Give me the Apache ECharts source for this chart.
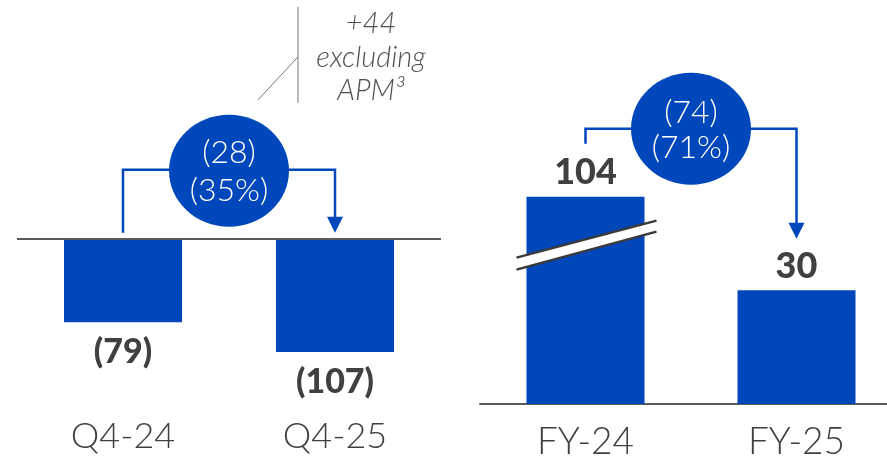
<!DOCTYPE html>
<html><head><meta charset="utf-8">
<script src="https://cdn.jsdelivr.net/npm/echarts@6/dist/echarts.min.js"></script>
<style>html,body{margin:0;padding:0;background:#fff}#c{width:887px;height:459px}</style>
</head><body><div id="c"></div>
<script>
const quarterCategories = ['Q4-24', 'Q4-25'];
const quarterValues = [-79, -107];
const quarterLabels = ['(79)', '(107)'];
const yearCategories = ['FY-24', 'FY-25'];
const yearValues = [104, 30];
const yearLabels = ['104', '30'];
const quarterChange = ['(28)', '(35%)'];
const yearChange = ['(74)', '(71%)'];
const noteLines = ['+44', 'excluding', 'APM³'];
const yearBreakStart = 42;
const yearBreakEnd = 91.4;

const BLUE = '#0047BB';
const TEXT = '#404040';
const GRAY = '#5a5a5a';
const FONT = 'Lato, "Noto Sans", sans-serif';

const chart = echarts.init(document.getElementById('c'), null, {renderer: 'canvas'});

const option = {
  animation: false,
  backgroundColor: '#fff',
  grid: [
    {left: 17, width: 424, top: 186, height: 222, outerBoundsMode: 'none', containLabel: false},
    {left: 480, width: 422, top: 174, height: 230, outerBoundsMode: 'none', containLabel: false}
  ],
  xAxis: [
    {type: 'category', gridIndex: 0, data: quarterCategories,
      axisLine: {show: false}, axisTick: {show: false}, splitLine: {show: false},
      axisLabel: {fontSize: 36, color: TEXT, margin: 10, fontFamily: FONT, fontWeight: 300}},
    {type: 'category', gridIndex: 1, data: yearCategories,
      axisLine: {show: true, lineStyle: {color: GRAY, width: 2}}, axisTick: {show: false}, splitLine: {show: false},
      axisLabel: {fontSize: 37, color: TEXT, margin: 20, fontFamily: FONT, fontWeight: 300}}
  ],
  yAxis: [
    {type: 'value', gridIndex: 0, min: -160, max: 50,
      axisLine: {show: false}, axisTick: {show: false}, axisLabel: {show: false}, splitLine: {show: false}},
    {type: 'value', gridIndex: 1, min: 0, max: 110,
      breaks: [{start: yearBreakStart, end: yearBreakEnd, gap: 0}],
      breakArea: {show: false},
      axisLine: {show: false}, axisTick: {show: false}, axisLabel: {show: false}, splitLine: {show: false}}
  ],
  series: [
    {type: 'bar', xAxisIndex: 0, yAxisIndex: 0, data: quarterValues, barWidth: 118,
      itemStyle: {color: BLUE},
      label: {show: true, position: 'bottom', distance: 13,
        formatter: p => quarterLabels[p.dataIndex],
        fontSize: 34, fontWeight: 900, color: TEXT, fontFamily: FONT},
      markLine: {silent: true, symbol: 'none', label: {show: false},
        lineStyle: {color: GRAY, width: 2, type: 'solid'},
        data: [{yAxis: 0}]}
    },
    {type: 'bar', xAxisIndex: 1, yAxisIndex: 1, data: yearValues, barWidth: 118,
      itemStyle: {color: BLUE},
      label: {show: true, position: 'top', distance: 6,
        formatter: p => yearLabels[p.dataIndex],
        fontSize: 36, fontWeight: 900, color: TEXT, fontFamily: FONT}
    }
  ]
};
chart.setOption(option);

function px(gi, x, y) {
  return chart.convertToPixel({xAxisIndex: gi, yAxisIndex: gi}, [x, y]);
}
function txt(text, x, y, size, fill, extra) {
  return Object.assign({type: 'text', z: 20, style: Object.assign({text: text, x: x, y: y,
    fill: fill, fontSize: size, fontFamily: FONT, fontWeight: 300,
    align: 'center', verticalAlign: 'middle', textAlign: 'center', textVerticalAlign: 'middle'}, extra || {})});
}

const g = [];
// Left panel change annotation
const a0 = px(0, 0, 0), a1 = px(0, 1, 0);
const zy = a0[1];
const lhy = zy - 69;
const lmid = (a0[0] + a1[0]) / 2;
g.push({type: 'polyline', z: 10, shape: {points: [[a0[0], zy - 6], [a0[0], lhy], [a1[0], lhy], [a1[0], zy - 20]]},
  style: {stroke: BLUE, lineWidth: 2.5, fill: null}});
g.push({type: 'polygon', z: 10, shape: {points: [[a1[0] - 8, zy - 22], [a1[0] + 8, zy - 22], [a1[0], zy - 6]]},
  style: {fill: BLUE}});
g.push({type: 'ellipse', z: 15, shape: {cx: lmid, cy: zy - 68, rx: 60, ry: 56}, style: {fill: BLUE}});
g.push(txt(quarterChange[0], lmid, zy - 86, 32, '#fff'));
g.push(txt(quarterChange[1], lmid, zy - 48, 32, '#fff'));

// Note "+44 excluding APM3"
const nx = lmid + 69;
g.push({type: 'line', z: 10, shape: {x1: nx, y1: zy - 232, x2: nx, y2: zy - 136}, style: {stroke: '#777', lineWidth: 1}});
g.push({type: 'line', z: 10, shape: {x1: nx - 40, y1: zy - 139, x2: nx, y2: zy - 182}, style: {stroke: '#777', lineWidth: 1}});
g.push(txt(noteLines[0], nx + 73, zy - 215, 29, '#505050', {fontStyle: 'italic'}));
g.push(txt(noteLines[1], nx + 73, zy - 181, 29, '#505050', {fontStyle: 'italic'}));
g.push(txt(noteLines[2], nx + 73, zy - 148, 29, '#505050', {fontStyle: 'italic'}));

// Right panel change annotation
const b0 = px(1, 0, yearValues[0]), b1 = px(1, 1, yearValues[1]);
const top0 = b0[1];
const rhy = top0 - 68;
const rmid = (b0[0] + b1[0]) / 2;
g.push({type: 'polyline', z: 10, shape: {points: [[b0[0], top0 - 53], [b0[0], rhy], [b1[0], rhy], [b1[0], top0 + 28]]},
  style: {stroke: BLUE, lineWidth: 2.5, fill: null}});
g.push({type: 'polygon', z: 10, shape: {points: [[b1[0] - 8, top0 + 26], [b1[0] + 8, top0 + 26], [b1[0], top0 + 42]]},
  style: {fill: BLUE}});
g.push({type: 'ellipse', z: 15, shape: {cx: rmid, cy: rhy, rx: 60, ry: 56}, style: {fill: BLUE}});
g.push(txt(yearChange[0], rmid, rhy - 16, 32, '#fff'));
g.push(txt(yearChange[1], rmid, rhy + 19, 32, '#fff'));

// Axis break marks on FY-24 bar
const bk = px(1, 0, yearBreakStart);
const cx = bk[0], cy = bk[1];
const p1a = [cx - 69, cy + 13], p1b = [cx + 71, cy - 24];
const p2a = [cx - 69, cy + 25], p2b = [cx + 71, cy - 13];
g.push({type: 'polygon', z: 12, shape: {points: [p1a, p1b, p2b, p2a]}, style: {fill: '#fff'}});
g.push({type: 'line', z: 13, shape: {x1: p1a[0], y1: p1a[1], x2: p1b[0], y2: p1b[1]}, style: {stroke: '#3a3a3a', lineWidth: 2.5}});
g.push({type: 'line', z: 13, shape: {x1: p2a[0], y1: p2a[1], x2: p2b[0], y2: p2b[1]}, style: {stroke: '#3a3a3a', lineWidth: 2.5}});

chart.setOption({graphic: g});
</script>
</body></html>
